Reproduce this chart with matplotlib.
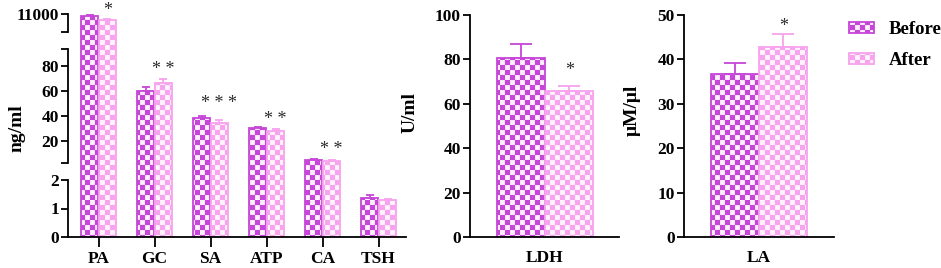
import numpy as np
import matplotlib.pyplot as plt
import matplotlib.hatch as mhatch
from matplotlib.path import Path
from matplotlib.patches import Patch

# values
cats = ['PA', 'GC', 'SA', 'ATP', 'CA', 'TSH']
before = [10900, 60.2, 38.2, 30.4, 4.8, 1.38]
before_err = [80, 2.8, 2.0, 1.0, 0.5, 0.08]
after = [10670, 66.2, 34.6, 28.3, 4.3, 1.30]
after_err = [55, 3.4, 2.2, 1.3, 0.5, 0.04]
stars = ['*', '* *', '* * *', '* *', '* *', '']

ldh_before, ldh_before_err = 80.8, 6.3
ldh_after, ldh_after_err = 65.8, 2.2
la_before, la_before_err = 36.7, 2.6
la_after, la_after_err = 42.9, 2.8

c_before = '#C646D8'
c_after = '#F7A3EE'
fc_before = '#FBF0FC'
fc_after = '#FFF4FD'


# checkerboard hatch (replaces the built-in hatch types, only 'x' is used here)
class Checker(mhatch.HatchPatternBase):
    def __init__(self, hatch, density):
        self.n = 20 if 'x' in hatch else 0
        self.num_vertices = self.n * self.n // 2 * 5

    def set_vertices_and_codes(self, vertices, codes):
        s = 1.0 / self.n
        k = 0
        for i in range(self.n):
            for j in range(self.n):
                if (i + j) % 2 == 0:
                    x0, y0 = i * s, j * s
                    vertices[k:k + 5] = [(x0, y0), (x0 + s, y0), (x0 + s, y0 + s),
                                         (x0, y0 + s), (x0, y0)]
                    codes[k:k + 5] = [Path.MOVETO, Path.LINETO, Path.LINETO,
                                      Path.LINETO, Path.CLOSEPOLY]
                    k += 5


mhatch._hatch_types[:] = [Checker]

plt.rcParams['font.family'] = 'Liberation Serif'
plt.rcParams['font.weight'] = 'bold'
plt.rcParams['axes.labelweight'] = 'bold'
plt.rcParams['hatch.linewidth'] = 0.1
plt.rcParams['axes.linewidth'] = 1.3

fig = plt.figure(figsize=(9.41, 2.68), dpi=100)

H = 268.0
W = 941.0
star_color = '#2a2a2a'


def add_axes(x0, x1, ybot, ytop):
    return fig.add_axes([x0 / W, (H - ybot) / H, (x1 - x0) / W, (ybot - ytop) / H])


def style(ax):
    ax.spines['top'].set_visible(False)
    ax.spines['right'].set_visible(False)
    ax.tick_params(axis='y', length=5, width=1.3, pad=1.5, labelsize=12.5)
    ax.tick_params(axis='x', length=7, width=1.3, pad=3, labelsize=12.5)
    ax.minorticks_off()


def draw_pair(ax, xs, b, be, a, ae, w, off, cap):
    ax.bar(xs - off, b, w, color=fc_before, edgecolor=c_before, hatch='x', lw=1.3, zorder=2)
    ax.bar(xs + off, a, w, color=fc_after, edgecolor=c_after, hatch='x', lw=1.3, zorder=2)
    ax.errorbar(xs - off, b, yerr=[np.zeros_like(be), be], fmt='none', ecolor=c_before,
                elinewidth=1.3, capsize=cap, capthick=1.3, zorder=1)
    ax.errorbar(xs + off, a, yerr=[np.zeros_like(ae), ae], fmt='none', ecolor=c_after,
                elinewidth=1.3, capsize=cap, capthick=1.3, zorder=1)


# ---------------- left panel, broken y axis ----------------
ax1 = add_axes(68, 406, 237, 14)
brk_v = [0, 2, 2.4, 93.6, 10000, 11000, 13000]
brk_p = [0, 57, 74, 188, 205, 223, 259]
ax1.set_yscale('function', functions=(lambda v: np.interp(v, brk_v, brk_p),
                                      lambda p: np.interp(p, brk_p, brk_v)))
x = np.arange(len(cats))
draw_pair(ax1, x, np.array(before), np.array(before_err), np.array(after),
          np.array(after_err), 0.29, 0.16, 3)
ax1.set_xlim(-0.545, 5.49)
ax1.set_ylim(0, 11000)
style(ax1)
ax1.spines['left'].set_visible(False)
for lo, hi in [(0, 2), (2.4, 93.6), (10000, 11000)]:
    ax1.plot([0, 0], [lo, hi], color='black', lw=1.3, transform=ax1.get_yaxis_transform(),
             clip_on=False, solid_capstyle='projecting')
ax1.set_yticks([0, 1, 2, 2.4, 20, 40, 60, 80, 93.6, 10000, 11000],
               ['0', '1', '2', '', '20', '40', '60', '80', '', '', '11000'])
ax1.set_xticks(x, cats)
ax1.set_ylabel('ng/ml', fontsize=14)
ax1.yaxis.set_label_coords(-0.125, 0.49)
star_off = [8, 9, 16, 9, 10, 0]
for i, s in enumerate(stars):
    top = after[i] + after_err[i]
    ax1.annotate(s, (x[i] + 0.16, top), xytext=(0, star_off[i]), textcoords='offset pixels',
                 ha='center', va='center', fontsize=13, fontweight='normal', color=star_color)

# ---------------- LDH ----------------
ax2 = add_axes(470, 619, 237, 15)
draw_pair(ax2, np.array([0.0]), [ldh_before], np.array([ldh_before_err]), [ldh_after],
          np.array([ldh_after_err]), 0.4, 0.204, 8)
ax2.set_xlim(-0.625, 0.617)
ax2.set_ylim(0, 100)
ax2.set_yticks([0, 20, 40, 60, 80, 100])
style(ax2)
ax2.tick_params(axis='x', length=0, pad=9)
ax2.set_xticks([0], ['LDH'])
ax2.set_ylabel('U/ml', fontsize=14)
ax2.yaxis.set_label_coords(-0.345, 0.56)
ax2.annotate('*', (0.204, ldh_after + ldh_after_err), xytext=(0, 16), textcoords='offset pixels',
             ha='center', va='center', fontsize=13, fontweight='normal', color=star_color)

# ---------------- LA ----------------
ax3 = add_axes(684, 834, 237, 15)
draw_pair(ax3, np.array([0.0]), [la_before], np.array([la_before_err]), [la_after],
          np.array([la_after_err]), 0.4, 0.204, 8)
ax3.set_xlim(-0.625, 0.625)
ax3.set_ylim(0, 50)
ax3.set_yticks([0, 10, 20, 30, 40, 50])
style(ax3)
ax3.tick_params(axis='x', length=0, pad=9)
ax3.set_xticks([0], ['LA'])
ax3.set_ylabel('\u03bcM/\u03bcl', fontsize=14)
ax3.yaxis.set_label_coords(-0.29, 0.57)
ax3.annotate('*', (0.204, la_after + la_after_err), xytext=(0, 8), textcoords='offset pixels',
             ha='center', va='center', fontsize=13, fontweight='normal', color=star_color)

handles = [Patch(facecolor=fc_before, edgecolor=c_before, hatch='x', lw=1.3, label='Before'),
           Patch(facecolor=fc_after, edgecolor=c_after, hatch='x', lw=1.3, label='After')]
fig.legend(handles=handles, loc='upper left', bbox_to_anchor=(840 / W, 1 - 12 / H),
           frameon=False, fontsize=13.5, handlelength=1.3, handleheight=0.5,
           handletextpad=0.8, labelspacing=0.75, borderpad=0)

plt.savefig('out.png', dpi=100)
